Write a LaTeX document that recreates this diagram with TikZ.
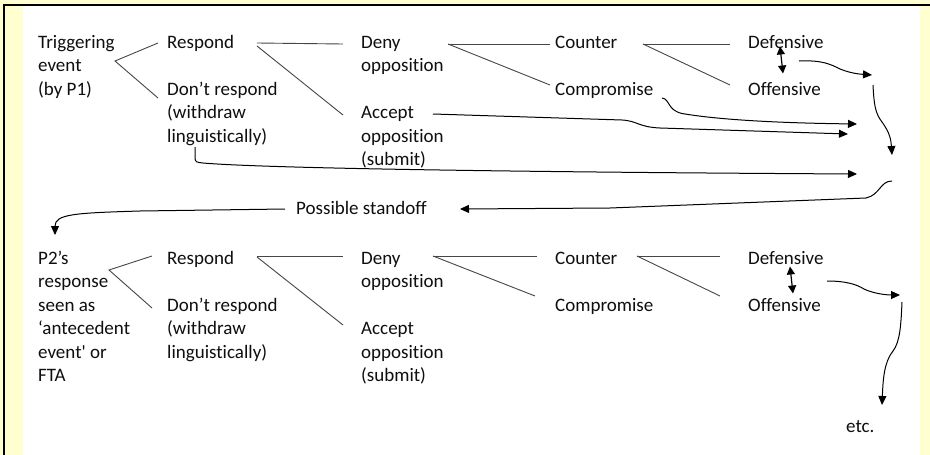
\documentclass[tikz,border=0pt]{standalone}
\usepackage{fontspec}
\setmainfont{Carlito}[Ligatures={TeX,NoCommon}]
\usetikzlibrary{arrows.meta}
\definecolor{bgyellow}{RGB}{255,255,208}
\definecolor{txt}{RGB}{15,15,15}
\definecolor{ln}{RGB}{70,70,70}
\newcommand{\lblfont}{\fontsize{19}{23.5}\selectfont}
\begin{document}
\begin{tikzpicture}[x=1pt,y=-1pt,
  lbl/.style={anchor=north west, inner sep=0pt, align=left, font=\lblfont, text=txt},
  branch/.style={draw=ln, line width=0.9pt},
  flow/.style={draw=black, line width=1pt, -{Triangle[length=9pt,width=8pt]}},
  twoway/.style={draw=black, line width=1.2pt, {Triangle[length=8pt,width=8pt]}-{Triangle[length=8pt,width=8pt]}}]
\useasboundingbox (0,0) rectangle (930,455);
\fill[bgyellow] (0,0) rectangle (930,455);
\fill[white] (23,6) rectangle (920,455);
\draw[line width=2.5pt] (3,5) -- (930,5);
\draw[line width=2.5pt] (4,4) -- (4,455);

% ---------- upper tree ----------
\node[lbl] (trig)   at (38,31.5)  {\strut Triggering\\event\\(by P1)};
\node[lbl] (resp1)  at (167,31.5) {\strut Respond};
\node[lbl] (nresp1) at (167,78.5) {\strut Don’t respond\\(withdraw\\linguistically)};
\node[lbl] (deny1)  at (361,31.5) {\strut Deny\\opposition};
\node[lbl] (acc1)   at (361,102)  {\strut Accept\\opposition\\(submit)};
\node[lbl] (count1) at (555,31.5) {\strut Counter};
\node[lbl] (comp1)  at (555,78.5) {\strut Compromise};
\node[lbl] (def1)   at (748,31.5) {\strut Defensive};
\node[lbl] (off1)   at (748,78.5) {\strut Offensive};
\node[lbl] (stand)  at (296,197.5) {\strut Possible standoff};

% ---------- lower tree ----------
\node[lbl] (p2)     at (38,247.5)  {\strut P2’s\\response\\seen as\\‘antecedent\\event\textquotesingle{} or\\FTA};
\node[lbl] (resp2)  at (167,247.5) {\strut Respond};
\node[lbl] (nresp2) at (167,294.5) {\strut Don’t respond\\(withdraw\\linguistically)};
\node[lbl] (deny2)  at (361,247.5) {\strut Deny\\opposition};
\node[lbl] (acc2)   at (361,318)   {\strut Accept\\opposition\\(submit)};
\node[lbl] (count2) at (555,247.5) {\strut Counter};
\node[lbl] (comp2)  at (555,294.5) {\strut Compromise};
\node[lbl] (def2)   at (748,247.5) {\strut Defensive};
\node[lbl] (off2)   at (748,294.5) {\strut Offensive};
\node[lbl] (etc)    at (846,415.5) {\strut etc.};

% ---------- upper branch lines ----------
\coordinate (tA) at (115,61);
\draw[branch] (158,43) -- (tA) -- (158,98);
\draw[branch] (257,43) -- (343,44);
\draw[branch] (257,46) -- (343,115);
\draw[branch] (448,44) -- (550,44);
\draw[branch] (448,44) -- (550,85);
\draw[branch] (643,44) -- (730,44);
\draw[branch] (643,44) -- (730,85);
\draw[twoway] (780,46.5) -- (783,73.5);

% upper flows
\coordinate (j1) at (872,75);
\coordinate (j2) at (892,155);
\draw[flow] (799,61) .. controls (822,60) and (830,64) .. (840,69)
  .. controls (850,73) and (858,74) .. (j1);
\draw[flow] (873,85) .. controls (874,104) and (875,113) .. (882,122)
  .. controls (890,133) and (891,140) .. (j2);
\draw[flow] (662,98) .. controls (670,99) and (667,110) .. (682,113.5)
  .. controls (720,120) and (780,123) .. (857,124);
\draw[flow] (433,114) -- (622,120) .. controls (638,121) and (638,127) .. (660,128) -- (848,134);
\draw[flow] (195,147) -- (195,158) .. controls (195,162) and (197,162.5) .. (203,163)
  .. controls (260,168) and (500,172) .. (857,174);
\draw[flow] (892,181) .. controls (880,181) and (880,195) .. (866,198) -- (610,208) -- (460,209);
\draw[flow] (285,209) -- (140,211) .. controls (75,213) and (55,214) .. (55,235);

% ---------- lower branch lines ----------
\coordinate (bA) at (109,270);
\draw[branch] (152,256) -- (bA) -- (152,308);
\draw[branch] (257,256) -- (343,256);
\draw[branch] (257,257) -- (343,325);
\draw[branch] (433,256) -- (537,256);
\draw[branch] (433,256) -- (535,296);
\draw[branch] (637,256) -- (720,256);
\draw[branch] (637,256) -- (720,296);
\draw[twoway] (790,266.5) -- (793,293.5);

% lower flows
\draw[flow] (827,281) .. controls (845,281) and (856,284) .. (864,289)
  .. controls (872,293) and (885,295) .. (900,295);
\draw[flow] (902,302) .. controls (901,325) and (900,342) .. (893,351)
  .. controls (884,362) and (883,380) .. (882,405);
\end{tikzpicture}
\end{document}
